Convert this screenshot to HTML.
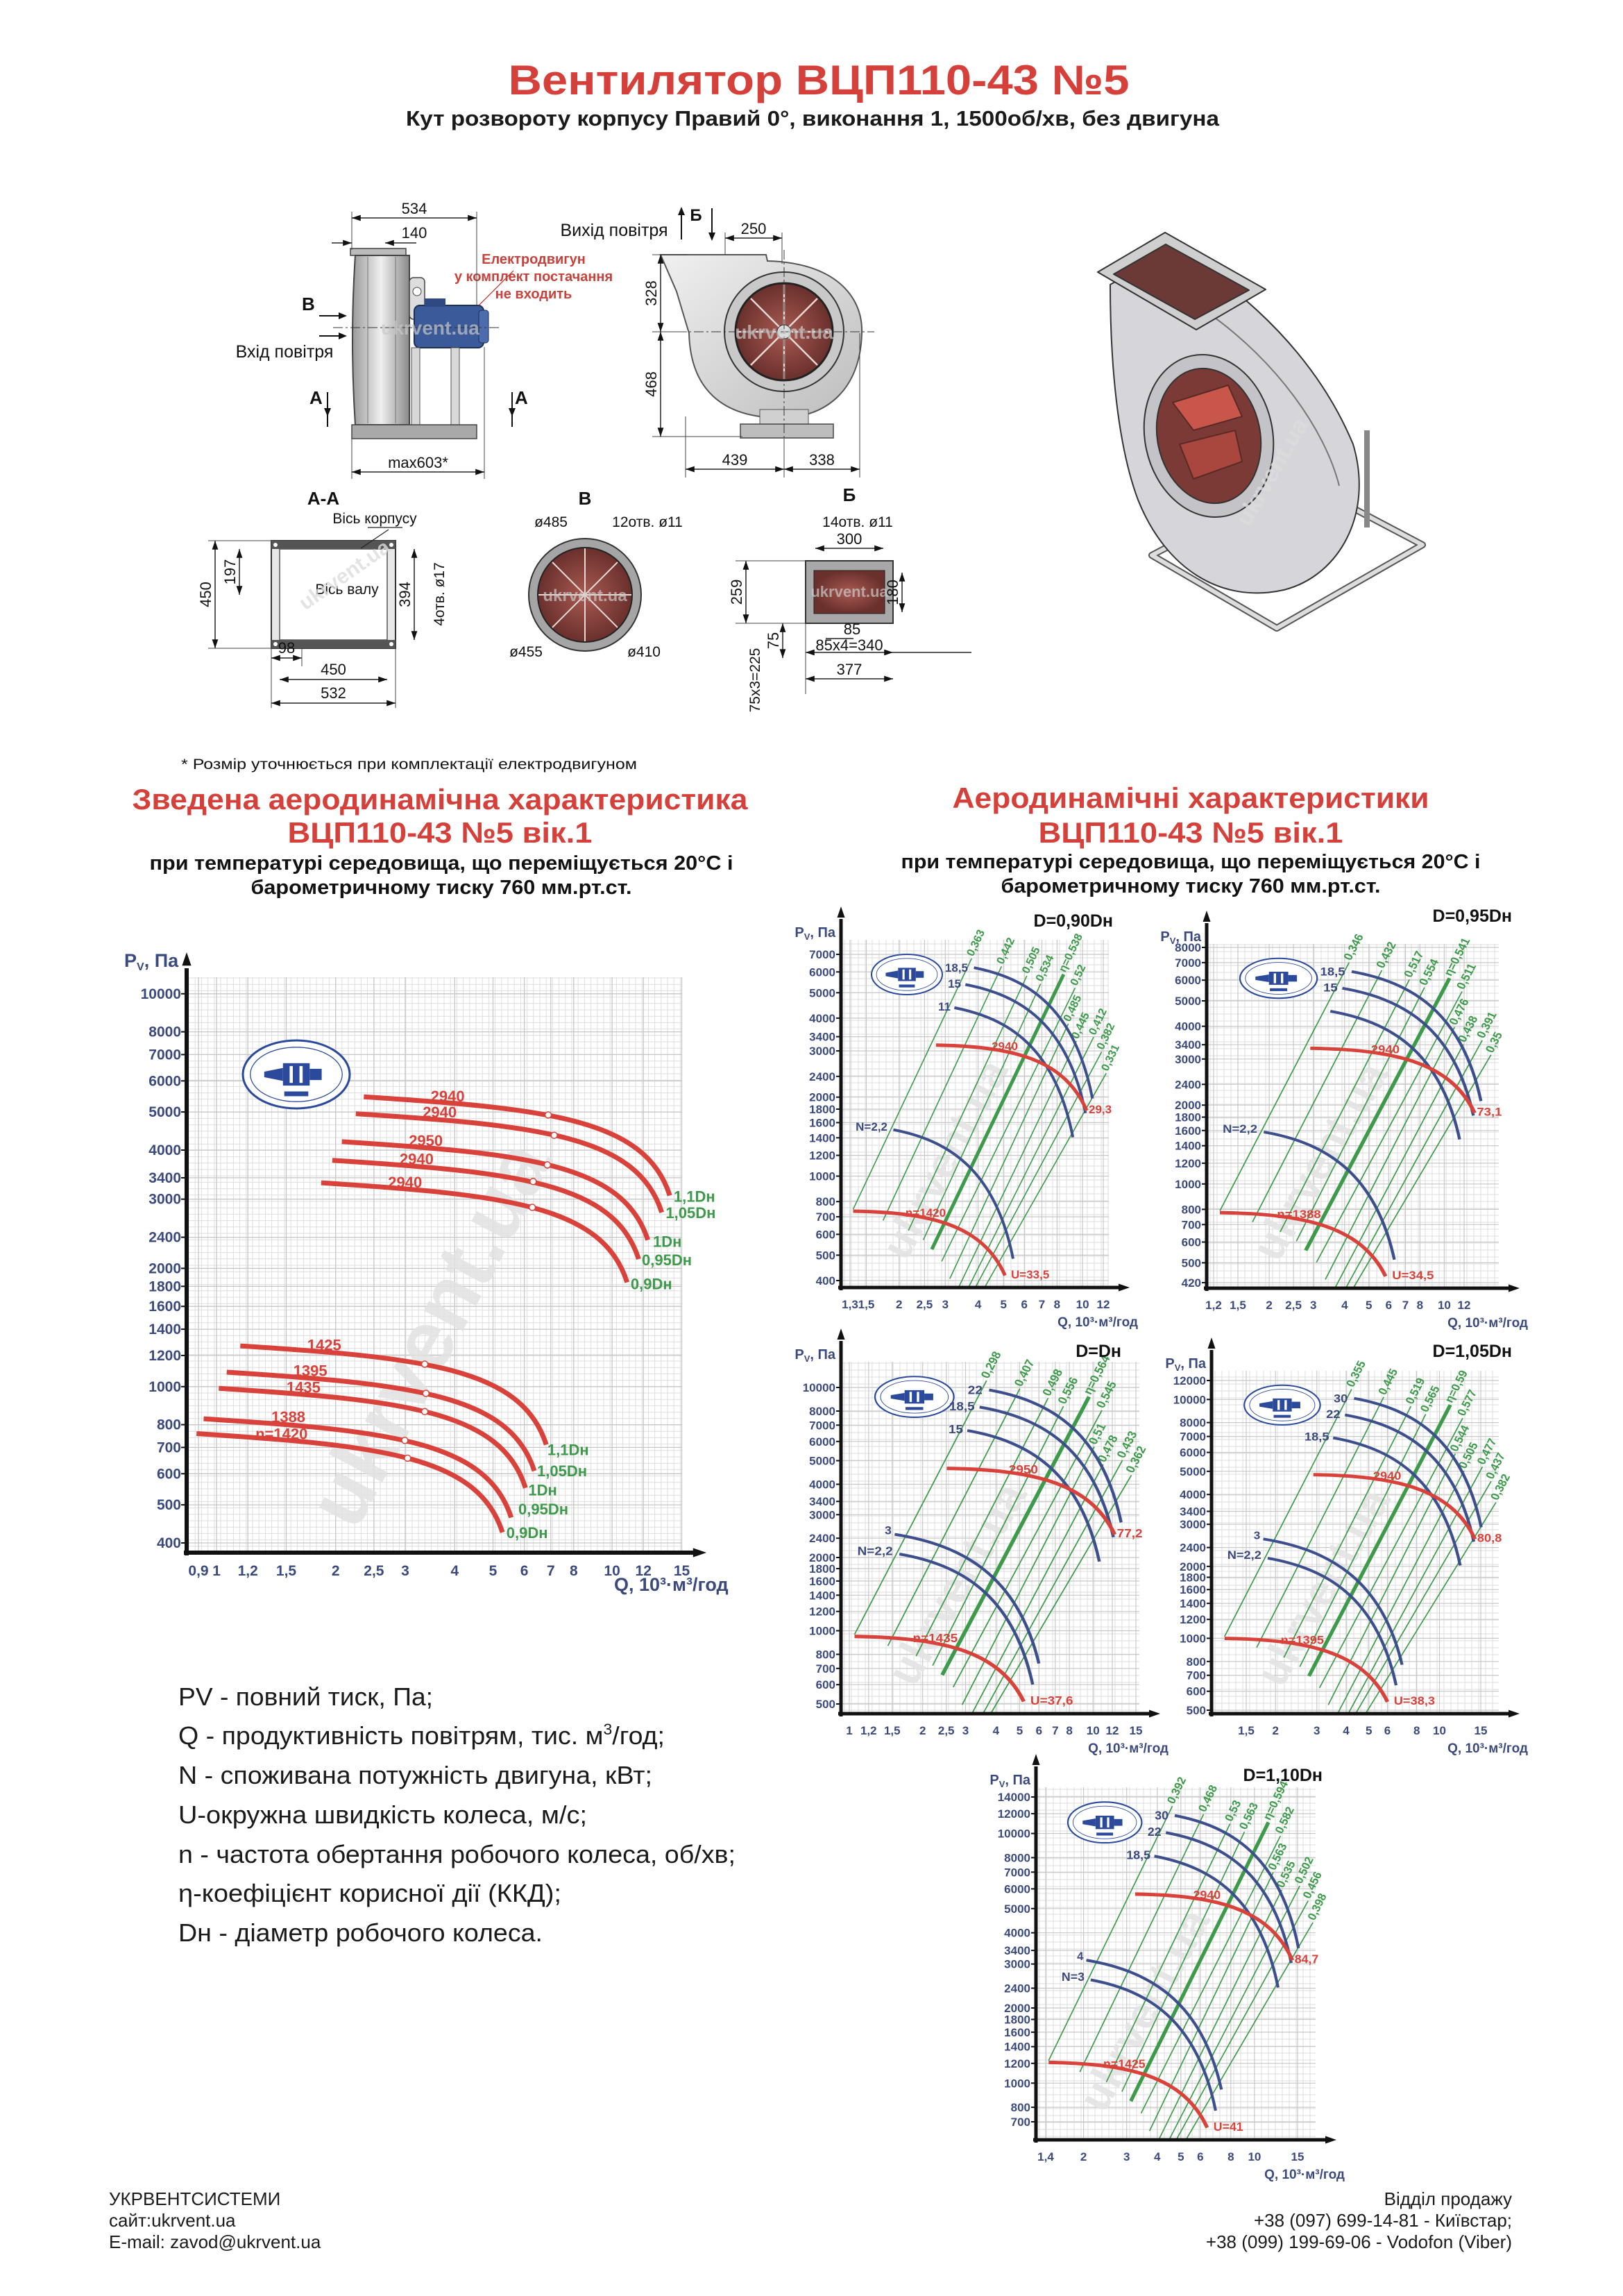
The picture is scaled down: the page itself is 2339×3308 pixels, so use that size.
<!DOCTYPE html>
<html><head><meta charset="utf-8">
<style>
html,body{margin:0;padding:0;background:#fff}
svg{display:block}
text{font-family:"Liberation Sans",sans-serif}
</style></head>
<body>
<svg id="s" xmlns="http://www.w3.org/2000/svg" width="2339" height="3308" viewBox="0 0 2339 3308">
<rect width="2339" height="3308" fill="#fff"/>
<defs>
<linearGradient id="gh" x1="0" x2="1" y1="0" y2="0">
<stop offset="0" stop-color="#9a9a9a"/><stop offset="0.5" stop-color="#efefef"/><stop offset="1" stop-color="#8a8a8a"/></linearGradient>
<linearGradient id="gv" x1="0" x2="1" y1="0" y2="1">
<stop offset="0" stop-color="#f0f0f0"/><stop offset="1" stop-color="#bdbdbd"/></linearGradient>
<radialGradient id="gr" cx="0.5" cy="0.5" r="0.5">
<stop offset="0" stop-color="#a85a52"/><stop offset="1" stop-color="#6a302c"/></radialGradient>
</defs>
<!-- Titles -->
<text x="1180" y="136" font-size="60" font-weight="bold" fill="#d6403a" text-anchor="middle" textLength="895" lengthAdjust="spacingAndGlyphs">Вентилятор ВЦП110-43 №5</text>
<text x="1171" y="181" font-size="31" font-weight="bold" fill="#1a1a1a" text-anchor="middle" textLength="1172" lengthAdjust="spacingAndGlyphs">Кут розвороту корпусу Правий 0°, виконання 1, 1500об/хв, без двигуна</text>

<!-- Side view -->
<g>
<rect x="505" y="358" width="80" height="10" fill="#bbb" stroke="#444" stroke-width="1.5"/>
<path d="M512,368 L590,368 L590,612 L512,612 Q504,490 512,368 Z" fill="url(#gh)" stroke="#444" stroke-width="2"/>
<line x1="530" y1="370" x2="530" y2="610" stroke="#777" stroke-width="1"/>
<line x1="570" y1="370" x2="570" y2="610" stroke="#777" stroke-width="1"/>
<rect x="590" y="400" width="22" height="60" rx="6" fill="#ddd" stroke="#444" stroke-width="1.5"/>
<circle cx="601" cy="420" r="6" fill="#fff" stroke="#444"/>
<rect x="597" y="440" width="100" height="61" rx="8" fill="#3a5a9a" stroke="#1e2f55" stroke-width="2"/>
<rect x="690" y="447" width="14" height="47" rx="4" fill="#4c6cad" stroke="#1e2f55"/>
<rect x="612" y="430" width="30" height="12" fill="#2f4a82"/>
<rect x="593" y="501" width="12" height="114" fill="#d8d8d8" stroke="#555"/>
<rect x="650" y="501" width="12" height="114" fill="#d8d8d8" stroke="#555"/>
<rect x="507" y="612" width="180" height="20" fill="#a9a9a9" stroke="#444" stroke-width="1.5"/>
<line x1="480" y1="472" x2="720" y2="472" stroke="#333" stroke-width="1" stroke-dasharray="14,4,3,4"/>
<text x="620" y="482" font-size="28" font-weight="bold" fill="#c8c8c8" opacity="0.7" text-anchor="middle">ukrvent.ua</text>
<line x1="690" y1="440" x2="740" y2="390" stroke="#b22" stroke-width="1.2"/>
<text x="769" y="380" font-size="20" font-weight="bold" fill="#c8413b" text-anchor="middle">Електродвигун</text>
<text x="769" y="405" font-size="20" font-weight="bold" fill="#c8413b" text-anchor="middle">у комплект постачання</text>
<text x="769" y="430" font-size="20" font-weight="bold" fill="#c8413b" text-anchor="middle">не входить</text>
<text x="435" y="447" font-size="26" font-weight="bold" fill="#111">В</text>
<line x1="460" y1="455" x2="495" y2="455" stroke="#111" stroke-width="2"/><polygon points="500,455 488,450 488,460" fill="#111"/>
<line x1="460" y1="484" x2="495" y2="484" stroke="#111" stroke-width="2"/><polygon points="500,484 488,479 488,489" fill="#111"/>
<text x="410" y="515" font-size="25" fill="#111" text-anchor="middle">Вхід повітря</text>
<text x="446" y="582" font-size="26" font-weight="bold" fill="#111">А</text>
<line x1="472" y1="565" x2="472" y2="615" stroke="#111" stroke-width="2"/><polygon points="472,600 467,588 477,588" fill="#111"/>
<text x="742" y="582" font-size="26" font-weight="bold" fill="#111">А</text>
<line x1="738" y1="565" x2="738" y2="615" stroke="#111" stroke-width="2"/><polygon points="738,600 733,588 743,588" fill="#111"/>
</g>

<!-- Front view -->
<g>
<path d="M952,367 L1104,367 L1106,376 C1200,378 1244,425 1242,480 C1240,560 1192,602 1125,602 C1040,602 995,560 993,480 L975,420 L952,367 Z" fill="url(#gv)" stroke="#555" stroke-width="2"/>
<line x1="952" y1="367" x2="952" y2="372" stroke="#333"/>
<rect x="1095" y="590" width="70" height="22" fill="#d0d0d0" stroke="#555"/>
<rect x="1067" y="611" width="134" height="20" fill="#bdbdbd" stroke="#444" stroke-width="1.5"/>
<circle cx="1130" cy="478" r="86" fill="#c9c9c9" stroke="#333" stroke-width="2"/>
<circle cx="1130" cy="478" r="70" fill="url(#gr)" stroke="#222" stroke-width="3"/>
<g stroke="#e9d9d5" stroke-width="2.5">
<line x1="1130" y1="478" x2="1130" y2="410"/><line x1="1130" y1="478" x2="1178" y2="430"/><line x1="1130" y1="478" x2="1198" y2="478"/><line x1="1130" y1="478" x2="1178" y2="526"/><line x1="1130" y1="478" x2="1130" y2="546"/><line x1="1130" y1="478" x2="1082" y2="526"/><line x1="1130" y1="478" x2="1062" y2="478"/><line x1="1130" y1="478" x2="1082" y2="430"/>
</g>
<circle cx="1130" cy="478" r="10" fill="#ddd" stroke="#333"/>
<line x1="950" y1="478" x2="1260" y2="478" stroke="#333" stroke-width="1" stroke-dasharray="14,4,3,4"/>
<line x1="1130" y1="360" x2="1130" y2="640" stroke="#333" stroke-width="1" stroke-dasharray="14,4,3,4"/>
<text x="1130" y="488" font-size="28" font-weight="bold" fill="#ccc" opacity="0.7" text-anchor="middle">ukrvent.ua</text>
<text x="885" y="340" font-size="25" fill="#111" text-anchor="middle">Вихід повітря</text>
<text x="1003" y="318" font-size="24" font-weight="bold" fill="#111" text-anchor="middle">Б</text>
<line x1="982" y1="300" x2="982" y2="345" stroke="#111" stroke-width="2"/><polygon points="982,298 977,310 987,310" fill="#111"/>
<line x1="1026" y1="300" x2="1026" y2="345" stroke="#111" stroke-width="2"/><polygon points="1026,347 1021,335 1031,335" fill="#111"/>
</g>

<!-- Section A-A -->
<g>
<text x="466" y="727" font-size="26" font-weight="bold" fill="#111" text-anchor="middle">А-А</text>
<text x="540" y="754" font-size="21" fill="#111" text-anchor="middle">Вісь корпусу</text>
<rect x="391" y="779" width="179" height="155" fill="#e8e8e8" stroke="#333" stroke-width="2"/>
<rect x="403" y="791" width="155" height="131" fill="#fff" stroke="#555" stroke-width="1.5"/>
<rect x="391" y="779" width="179" height="12" fill="#555"/>
<rect x="391" y="922" width="179" height="12" fill="#555"/>
<circle cx="397" cy="785" r="3" fill="#fff"/><circle cx="564" cy="785" r="3" fill="#fff"/><circle cx="397" cy="928" r="3" fill="#fff"/><circle cx="564" cy="928" r="3" fill="#fff"/>
<text x="500" y="856" font-size="21" fill="#111" text-anchor="middle">Вісь валу</text>
<text x="440" y="880" font-size="30" font-weight="bold" fill="#ddd" opacity="0.8" transform="rotate(-35 440 880)">ukrvent.ua</text>
</g>
<!-- В -->
<g>
<text x="843" y="727" font-size="26" font-weight="bold" fill="#111" text-anchor="middle">В</text>
<text x="794" y="759" font-size="21" fill="#111" text-anchor="middle">ø485</text>
<text x="933" y="759" font-size="21" fill="#111" text-anchor="middle">12отв. ø11</text>
<circle cx="843" cy="857" r="81" fill="#a5a5a5" stroke="#333" stroke-width="2"/>
<circle cx="843" cy="857" r="68" fill="url(#gr)" stroke="#222" stroke-width="2"/>
<g stroke="#e9d9d5" stroke-width="2"><line x1="843" y1="857" x2="843" y2="790"/><line x1="843" y1="857" x2="890" y2="810"/><line x1="843" y1="857" x2="910" y2="857"/><line x1="843" y1="857" x2="890" y2="904"/><line x1="843" y1="857" x2="843" y2="924"/><line x1="843" y1="857" x2="796" y2="904"/><line x1="843" y1="857" x2="776" y2="857"/><line x1="843" y1="857" x2="796" y2="810"/></g>
<text x="843" y="866" font-size="24" font-weight="bold" fill="#ccc" opacity="0.7" text-anchor="middle">ukrvent.ua</text>
<text x="758" y="946" font-size="21" fill="#111" text-anchor="middle">ø455</text>
<text x="928" y="946" font-size="21" fill="#111" text-anchor="middle">ø410</text>
</g>
<!-- Б -->
<g>
<text x="1224" y="722" font-size="26" font-weight="bold" fill="#111" text-anchor="middle">Б</text>
<text x="1236" y="759" font-size="21" fill="#111" text-anchor="middle">14отв. ø11</text>
<rect x="1161" y="808" width="126" height="90" fill="#a8a8a8" stroke="#333" stroke-width="2"/>
<rect x="1173" y="822" width="102" height="62" fill="url(#gr)" stroke="#222"/>
<text x="1224" y="860" font-size="22" font-weight="bold" fill="#ccc" opacity="0.7" text-anchor="middle">ukrvent.ua</text>
</g>

<!-- 3D fan -->
<g stroke="#333" stroke-width="2" stroke-linejoin="round">
<polygon points="1660,800 1840,905 2050,785 1870,690" fill="none" stroke="#555" stroke-width="10"/>
<polygon points="1660,800 1840,905 2050,785 1870,690" fill="none" stroke="#ddd" stroke-width="6"/>
<line x1="1700" y1="780" x2="1700" y2="700" stroke="#888" stroke-width="8"/>
<line x1="1970" y1="760" x2="1970" y2="620" stroke="#888" stroke-width="8"/>
<line x1="1900" y1="790" x2="1900" y2="650" stroke="#888" stroke-width="8"/>
<path d="M1600,410 L1690,360 C1800,420 1900,520 1950,640 C1980,740 1930,830 1850,850 C1760,870 1680,820 1640,720 C1610,640 1600,520 1600,410 Z" fill="#d6d6da"/>
<path d="M1690,360 L1740,450 C1840,520 1910,620 1930,700" fill="none" stroke="#777"/>
<ellipse cx="1742" cy="628" rx="92" ry="118" fill="#c4c4c8" transform="rotate(-12 1742 628)"/>
<ellipse cx="1742" cy="628" rx="74" ry="98" fill="#7b3a35" transform="rotate(-12 1742 628)"/>
<polygon points="1690,580 1770,555 1790,600 1720,620" fill="#c9564a" stroke="#5a2a26"/>
<polygon points="1700,640 1780,620 1790,665 1720,690" fill="#a9473e" stroke="#5a2a26"/>
<polygon points="1582,392 1679,335 1824,417 1724,475" fill="#cfcfcf"/>
<polygon points="1605,395 1680,352 1800,418 1722,460" fill="#6b3a36"/>
<text x="1800" y="760" font-size="34" font-weight="bold" fill="#ddd" opacity="0.8" stroke="none" transform="rotate(-60 1800 760)">ukrvent.ua</text>
</g>

<text x="261" y="1108" font-size="21" fill="#111" textLength="657" lengthAdjust="spacingAndGlyphs">* Розмір уточнюється при комплектації електродвигуном</text>

<!-- Headings -->
<text x="634" y="1166" font-size="42" font-weight="bold" fill="#d6403a" text-anchor="middle" textLength="887" lengthAdjust="spacingAndGlyphs">Зведена аеродинамічна характеристика</text>
<text x="634" y="1214" font-size="42" font-weight="bold" fill="#d6403a" text-anchor="middle" textLength="439" lengthAdjust="spacingAndGlyphs">ВЦП110-43 №5 вік.1</text>
<text x="636" y="1253" font-size="29" font-weight="bold" fill="#111" text-anchor="middle" textLength="841" lengthAdjust="spacingAndGlyphs">при температурі середовища, що переміщується 20°С і</text>
<text x="636" y="1288" font-size="29" font-weight="bold" fill="#111" text-anchor="middle" textLength="549" lengthAdjust="spacingAndGlyphs">барометричному тиску 760 мм.рт.ст.</text>
<text x="1716" y="1164" font-size="42" font-weight="bold" fill="#d6403a" text-anchor="middle" textLength="687" lengthAdjust="spacingAndGlyphs">Аеродинамічні характеристики</text>
<text x="1716" y="1214" font-size="42" font-weight="bold" fill="#d6403a" text-anchor="middle" textLength="439" lengthAdjust="spacingAndGlyphs">ВЦП110-43 №5 вік.1</text>
<text x="1716" y="1251" font-size="29" font-weight="bold" fill="#111" text-anchor="middle" textLength="835" lengthAdjust="spacingAndGlyphs">при температурі середовища, що переміщується 20°С і</text>
<text x="1716" y="1286" font-size="29" font-weight="bold" fill="#111" text-anchor="middle" textLength="547" lengthAdjust="spacingAndGlyphs">барометричному тиску 760 мм.рт.ст.</text>

<!-- Legend -->
<g font-size="36" fill="#1a1a1a">
<text x="257" y="2457" textLength="367" lengthAdjust="spacingAndGlyphs">PV - повний тиск, Па;</text>
<text x="257" y="2513" textLength="701" lengthAdjust="spacingAndGlyphs">Q - продуктивність повітрям, тис. м<tspan font-size="22" dy="-14">3</tspan><tspan dy="14">/год;</tspan></text>
<text x="257" y="2570" textLength="683" lengthAdjust="spacingAndGlyphs">N - споживана потужність двигуна, кВт;</text>
<text x="257" y="2627" textLength="589" lengthAdjust="spacingAndGlyphs">U-окружна швидкість колеса, м/с;</text>
<text x="257" y="2684" textLength="803" lengthAdjust="spacingAndGlyphs">n - частота обертання робочого колеса, об/хв;</text>
<text x="257" y="2740" textLength="552" lengthAdjust="spacingAndGlyphs">η-коефіцієнт корисної дії (ККД);</text>
<text x="257" y="2797" textLength="525" lengthAdjust="spacingAndGlyphs">Dн - діаметр робочого колеса.</text>
</g>

<!-- Footer -->
<g font-size="26" fill="#1a1a1a">
<text x="157" y="3177">УКРВЕНТСИСТЕМИ</text>
<text x="157" y="3208">сайт:ukrvent.ua</text>
<text x="157" y="3239">E-mail: zavod@ukrvent.ua</text>
<text x="2179" y="3177" text-anchor="end">Відділ продажу</text>
<text x="2179" y="3208" text-anchor="end">+38 (097) 699-14-81 - Київстар;</text>
<text x="2179" y="3239" text-anchor="end">+38 (099) 199-69-06 - Vodofon (Viber)</text>
</g>

<g id="dyn"></g>
</svg>
<script>
(function(){
var S='';
function f(n){return (+n).toFixed(1);}
function line(x1,y1,x2,y2,c,w,ex){S+='<line x1="'+f(x1)+'" y1="'+f(y1)+'" x2="'+f(x2)+'" y2="'+f(y2)+'" stroke="'+c+'" stroke-width="'+w+'" '+(ex||'')+'/>';}
function text(x,y,s,size,fill,anchor,weight,ex){S+='<text x="'+f(x)+'" y="'+f(y)+'" font-size="'+size+'" fill="'+fill+'" text-anchor="'+(anchor||'start')+'" font-weight="'+(weight||'normal')+'" '+(ex||'')+'>'+s+'</text>';}
function tri(x,y,d,s){var p;
 if(d=='l')p=[x,y,x+s*1.6,y-s*0.55,x+s*1.6,y+s*0.55];
 if(d=='r')p=[x,y,x-s*1.6,y-s*0.55,x-s*1.6,y+s*0.55];
 if(d=='u')p=[x,y,x-s*0.55,y+s*1.6,x+s*0.55,y+s*1.6];
 if(d=='d')p=[x,y,x-s*0.55,y-s*1.6,x+s*0.55,y-s*1.6];
 S+='<polygon points="'+p.map(f).join(' ')+'" fill="#111"/>';}
function dimH(x1,x2,y,lab,ty){line(x1,y,x2,y,'#222',1.5);tri(x1,y,'l',8);tri(x2,y,'r',8);text((x1+x2)/2,ty||(y-6),lab,22,'#111','middle');}
function dimV(x,y1,y2,lab){line(x,y1,x,y2,'#222',1.5);tri(x,y1,'u',8);tri(x,y2,'d',8);var cy=(y1+y2)/2;text(x-6,cy,lab,22,'#111','middle','normal','transform="rotate(-90 '+f(x-6)+' '+f(cy)+')"');}
// drawing dimensions
line(507,305,507,360,'#444',1);line(687,305,687,440,'#444',1);
dimH(507,687,314,'534');
line(478,350,507,350,'#222',1.5);tri(507,350,'r',8);line(555,350,600,350,'#222',1.5);tri(555,350,'l',8);text(597,343,'140',22,'#111','middle');
line(507,632,507,690,'#444',1);line(698,500,698,690,'#444',1);
dimH(507,698,680,'max603*');
line(1045,335,1045,367,'#444',1);line(1127,335,1127,380,'#444',1);dimH(1045,1127,343,'250');
line(940,367,990,367,'#444',1);line(940,629,1070,629,'#444',1);line(940,478,990,478,'#444',1);
dimV(952,367,478,'328');dimV(952,478,629,'468');
line(988,600,988,688,'#444',1);line(1239,480,1239,688,'#444',1);line(1130,632,1130,688,'#444',1);
dimH(988,1130,676,'439');dimH(1130,1239,676,'338');
dimV(310,779,934,'450');line(300,779,391,779,'#444',1);line(300,934,391,934,'#444',1);
dimV(345,791,857,'197');dimV(597,791,922,'394');
text(640,856,'4отв. ø17',21,'#111','middle','normal','transform="rotate(-90 640 856)"');
dimH(391,435,948,'98',941);line(435,934,435,960,'#444',1);
dimH(403,558,979,'450',972);dimH(391,570,1013,'532',1006);
line(391,934,391,1020,'#444',1);line(570,934,570,1020,'#444',1);
line(530,760,580,760,'#222',1.2);line(560,763,520,790,'#222',1.2);
dimV(1075,808,898,'259');dimV(1300,825,882,'180');
dimH(1175,1273,790,'300');
dimH(1161,1287,940,'85x4=340',937);line(1287,940,1400,940,'#222',1.5);
dimH(1161,1287,978,'377',972);
line(1190,920,1230,920,'#222',1.5);text(1228,914,'85',22,'#111','middle');
dimV(1128,898,948,'75');
text(1095,980,'75x3=225',21,'#111','middle','normal','transform="rotate(-90 1095 980)"');
line(1161,898,1161,1000,'#444',1);line(1060,808,1161,808,'#444',1);line(1060,898,1161,898,'#444',1);

// ---------- Big chart ----------
var BX=function(z){return 150+z/1.742;},BY=function(z){return 1350+z/1.638;};
var L=272,R=982,TOP=1408,B=2237,AX=269;
var X=function(q){return 286+570*Math.log10(q/0.9);},Y=function(p){return 2223-566*Math.log10(p/400);};
for(var x=L;x<=R;x+=9.2)line(x,TOP,x,B,'#dedede',1);
for(var y=B;y>=TOP;y-=9.2)line(L,y,R,y,'#dedede',1);
var yv=[10000,8000,7000,6000,5000,4000,3400,3000,2400,2000,1800,1600,1400,1200,1000,800,700,600,500,400];
var xv=[[0.9,'0,9'],[1,'1'],[1.2,'1,2'],[1.5,'1,5'],[2,'2'],[2.5,'2,5'],[3,'3'],[4,'4'],[5,'5'],[6,'6'],[7,'7'],[8,'8'],[10,'10'],[12,'12'],[15,'15']];
yv.forEach(function(p){line(L,Y(p),R,Y(p),'#c6c6c6',1.3);line(AX-8,Y(p),AX,Y(p),'#111',2);text(AX-8,Y(p)+7,p,21,'#3a4a7e','end','bold');});
xv.forEach(function(a){line(X(a[0]),TOP,X(a[0]),B,'#c6c6c6',1.3);text(X(a[0]),B+33,a[1],21,'#3a4a7e','middle','bold');});
text(655,1940,'ukrvent.ua',120,'#e2e2e2','middle','bold','transform="rotate(-62 655 1940)" opacity="0.85"');
// logo
function logo(cx,cy,rx,ry){
 S+='<g><ellipse cx="'+cx+'" cy="'+cy+'" rx="'+rx+'" ry="'+ry+'" fill="#fff" stroke="#2b4a9c" stroke-width="'+(rx/25)+'"/>';
 S+='<ellipse cx="'+cx+'" cy="'+cy+'" rx="'+(rx*0.86)+'" ry="'+(ry*0.8)+'" fill="none" stroke="#2b4a9c" stroke-width="'+(rx/60)+'"/>';
 var w=rx*0.5,h=ry*0.55;
 S+='<rect x="'+f(cx-w*0.5)+'" y="'+f(cy-h*0.6)+'" width="'+f(w)+'" height="'+f(h*1.2)+'" fill="#2b4a9c"/>';
 S+='<polygon points="'+f(cx-w*0.5)+','+f(cy-h*0.35)+' '+f(cx-w*1.2)+','+f(cy-h*0.15)+' '+f(cx-w*1.2)+','+f(cy+h*0.15)+' '+f(cx-w*0.5)+','+f(cy+h*0.35)+'" fill="#2b4a9c"/>';
 S+='<rect x="'+f(cx+w*0.5)+'" y="'+f(cy-h*0.3)+'" width="'+f(w*0.45)+'" height="'+f(h*0.6)+'" fill="#2b4a9c"/>';
 S+='<rect x="'+f(cx-w*0.25)+'" y="'+f(cy-h*0.45)+'" width="'+f(w*0.12)+'" height="'+f(h*0.9)+'" fill="#fff"/>';
 S+='<rect x="'+f(cx+w*0.12)+'" y="'+f(cy-h*0.45)+'" width="'+f(w*0.12)+'" height="'+f(h*0.9)+'" fill="#fff"/>';
 S+='<rect x="'+f(cx-w*0.45)+'" y="'+f(cy+ry*0.5)+'" width="'+f(w*0.9)+'" height="'+f(ry*0.14)+'" fill="#2b4a9c"/>';
 S+='</g>';}
logo(427,1548,77,49);
function curve(x0,y0,x3,y3,a,b,c,d,col,w){var dx=x3-x0,dy=y3-y0;
 S+='<path d="M'+f(x0)+','+f(y0)+' C'+f(x0+a*dx)+','+f(y0+b*dy)+' '+f(x0+c*dx)+','+f(y0+d*dy)+' '+f(x3)+','+f(y3)+'" fill="none" stroke="'+col+'" stroke-width="'+w+'" stroke-linecap="butt"/>';}
var RED='#d9423a',GREEN='#3d9a4a',NAVY='#3a4a7e',BLUE='#3c4e8c';
var bc=[[652,377,1420,610,1115,420],[632,417,1400,650,1130,468],[597,483,1365,715,1113,538],[573,527,1342,760,1077,577],[545,580,1313,815,1075,638],
[342,965,1110,1198,805,1008],[308,1027,1080,1260,808,1077],[288,1065,1058,1300,805,1120],[250,1137,1022,1370,755,1188],[232,1172,1000,1405,762,1230]];
bc.forEach(function(c){curve(BX(c[0]),BY(c[1]),BX(c[2]),BY(c[3]),0.6,0.12,0.92,0.22,RED,7);});
bc.forEach(function(c){S+='<circle cx="'+f(BX(c[4]))+'" cy="'+f(BY(c[5]))+'" r="4.5" fill="#fff" stroke="'+RED+'" stroke-width="1.5"/>';});
var rl=[[820,375,'2940'],[800,413,'2940'],[765,480,'2950'],[742,523,'2940'],[713,578,'2940'],[510,962,'1425'],[475,1023,'1395'],[458,1062,'1435'],[420,1132,'1388'],[380,1172,'n=1420']];
rl.forEach(function(r){text(BX(r[0]),BY(r[1])+8,r[2],22,RED,'start','bold');});
var gl=[[1430,612,'1,1Dн'],[1410,650,'1,05Dн'],[1378,718,'1Dн'],[1350,762,'0,95Dн'],[1322,818,'0,9Dн'],[1113,1210,'1,1Dн'],[1087,1260,'1,05Dн'],[1065,1305,'1Dн'],[1040,1350,'0,95Dн'],[1010,1405,'0,9Dн']];
gl.forEach(function(r){text(BX(r[0]),BY(r[1])+8,r[2],22,GREEN,'start','bold');});
line(AX,B+4,AX,1395,'#111',6);tri(AX,1372,'u',12);
line(AX-4,B,1000,B,'#111',6);tri(1018,B,'r',12);
text(179,1393,'P<tspan font-size="16" dy="5">V</tspan><tspan dy="-5">, Па</tspan>',27,NAVY,'start','bold');
text(885,2292,'Q, 10³·м³/год',27,NAVY,'start','bold');

// ---------- Small charts ----------
var Z=function(zx,zy){return [1120+zx/3.015,1300+zy/2.6];};
function content(c){
 var s0=S;S='';
 text(1380,1680,'ukrvent.ua',62,'#e4e4e4','middle','bold','transform="rotate(-62 1380 1680)" opacity="0.9"');
 logo(1307,1404,51,29);
 var gls=[[330,1150,845,210],[460,1192,975,240],[570,1230,1085,275],[635,1265,1145,305],[672,1300,1245,270],[715,1345,1295,320],[750,1410,1265,455],[790,1440,1300,520],[830,1445,1375,505],[860,1445,1410,560],[900,1445,1430,640]];
 var ang=-64.6;
 gls.forEach(function(g,i){if(i>=c.green.length)return;var a=Z(g[0],g[1]),b=Z(g[2],g[3]);
  var thick=(c.green[i].indexOf('η')==0);
  line(a[0],a[1],b[0],b[1],GREEN,thick?5:1.6);
  text(b[0]+2,b[1]-2,c.green[i],16,GREEN,'start','bold','transform="rotate('+ang+' '+f(b[0]+2)+' '+f(b[1]-2)+')"');});
 var blues=[[[855,245],[1370,735]],[[818,308],[1340,790]],[[770,395],[1285,880]]];
 blues.forEach(function(bb,i){var a=Z(bb[0][0],bb[0][1]),b=Z(bb[1][0],bb[1][1]);curve(a[0],a[1],b[0],b[1],0.45,0.08,0.85,0.3,BLUE,4);});
 var na=Z(505,852),nb=Z(1025,1335);
 curve(na[0],na[1],nb[0],nb[1],0.45,0.08,0.85,0.3,BLUE,4);
 if(c.extra){curve(na[0]-6,na[1]-28,nb[0]+8,nb[1]-30,0.45,0.08,0.85,0.3,BLUE,4);text(na[0]-10,na[1]-28,c.extra,16,NAVY,'end','bold');}
 var ra=Z(690,535),rb=Z(1345,780);curve(ra[0],ra[1],rb[0],rb[1],0.5,0.02,0.85,0.2,RED,5);
 var ra2=Z(330,1157),rb2=Z(990,1398);curve(ra2[0],ra2[1],rb2[0],rb2[1],0.5,0.02,0.85,0.2,RED,5);
 text(1395,1400,c.b[0],17,NAVY,'end','bold');text(1385,1423,c.b[1],17,NAVY,'end','bold');text(1370,1456,c.b[2],17,NAVY,'end','bold');
 text(1279,1629,c.n,17,NAVY,'end','bold');
 text(1448,1513,c.r[0],17,RED,'middle','bold');text(1334,1753,c.r[1],17,RED,'middle','bold');
 text(1569,1604,c.r[2],17,RED,'start','bold');text(1457,1842,c.r[3],17,RED,'start','bold');
 var out=S;S=s0;return out;}
function small(c){
 var L=c.L,B=c.B,R=c.R,T=c.T;
 for(var x=L+5;x<=R;x+=10)line(x,T,x,B,'#dedede',1);
 for(var y=B-5;y>=T;y-=10)line(L,y,R,y,'#dedede',1);
 var Yp=function(p){return c.yb[1]-Math.log10(p/c.yb[0])/Math.log10(c.yt[0]/c.yb[0])*(c.yb[1]-c.yt[1]);};
 var Xq=function(q){return c.x0[1]+Math.log10(q/c.x0[0])/Math.log10(c.x1[0]/c.x0[0])*(c.x1[1]-c.x0[1]);};
 c.yl.forEach(function(p){var y=Yp(p);line(L,y,R,y,'#c8c8c8',1.2);line(L-7,y,L,y,'#111',2);text(L-8,y+6,p,17,NAVY,'end','bold');});
 c.xl.forEach(function(a){var x=Xq(a[0]);line(x,T,x,B,'#c8c8c8',1.2);text(x,B+30,a[1],17,NAVY,'middle','bold');});
 var sx=(R-L)/386,sy=(B-T)/501;
 S+='<g transform="translate('+L+','+B+') scale('+sx.toFixed(4)+','+sy.toFixed(4)+') translate(-1212,-1855)">'+content(c)+'</g>';
 line(L,B+4,L,T-30,'#111',5);tri(L,T-48,'u',10);
 line(L-4,B,R+14,B,'#111',5);tri(R+30,B,'r',10);
 text(L-8,T-4,'P<tspan font-size="13" dy="4">V</tspan><tspan dy="-4">, Па</tspan>',20,NAVY,'end','bold');
 text(R+42,B+56,'Q, 10³·м³/год',19,NAVY,'end','bold');
 text(c.tx,c.ty,c.title,25,'#111','end','bold');}
var Y1=[7000,6000,5000,4000,3400,3000,2400,2000,1800,1600,1400,1200,1000,800,700,600,500,400];
small({L:1212,B:1855,R:1598,T:1354,yt:[7000,1375],yb:[400,1845],yl:Y1,x0:[1.3,1225],x1:[12,1590],
 xl:[[1.3,'1,3'],[1.5,'1,5'],[2,'2'],[2.5,'2,5'],[3,'3'],[4,'4'],[5,'5'],[6,'6'],[7,'7'],[8,'8'],[10,'10'],[12,'12']],
 title:'D=0,90Dн',tx:1604,ty:1335,b:['18,5','15','11'],n:'N=2,2',r:['2940','n=1420','29,3','U=33,5'],
 green:['0,363','0,442','0,505','0,534','η=0,538','0,52','0,485','0,445','0,412','0,382','0,331']});
small({L:1739,B:1856,R:2160,T:1360,yt:[8000,1365],yb:[420,1848],yl:[8000,7000,6000,5000,4000,3400,3000,2400,2000,1800,1600,1400,1200,1000,800,700,600,500,420],x0:[1.2,1749],x1:[12,2110],
 xl:[[1.2,'1,2'],[1.5,'1,5'],[2,'2'],[2.5,'2,5'],[3,'3'],[4,'4'],[5,'5'],[6,'6'],[7,'7'],[8,'8'],[10,'10'],[12,'12']],
 title:'D=0,95Dн',tx:2179,ty:1328,b:['18,5','15',''],n:'N=2,2',r:['2940','n=1388','73,1','U=34,5'],
 green:['0,346','0,432','0,517','0,554','η=0,541','0,511','0,476','0,438','0,391','0,35']});
var Y3=[10000,8000,7000,6000,5000,4000,3400,3000,2400,2000,1800,1600,1400,1200,1000,800,700,600,500];
small({L:1212,B:2469,R:1642,T:1962,yt:[10000,1999],yb:[500,2455],yl:Y3,x0:[1,1224],x1:[15,1637],
 xl:[[1,'1'],[1.2,'1,2'],[1.5,'1,5'],[2,'2'],[2.5,'2,5'],[3,'3'],[4,'4'],[5,'5'],[6,'6'],[7,'7'],[8,'8'],[10,'10'],[12,'12'],[15,'15']],
 title:'D=Dн',tx:1616,ty:1955,b:['22','18,5','15'],n:'N=2,2',extra:'3',r:['2950','n=1435','77,2','U=37,6'],
 green:['0,298','0,407','0,498','0,556','η=0,564','0,545','0,51','0,478','0,433','0,362']});
small({L:1746,B:2469,R:2160,T:1975,yt:[12000,1989],yb:[500,2464],yl:[12000,10000,8000,7000,6000,5000,4000,3400,3000,2400,2000,1800,1600,1400,1200,1000,800,700,600,500],x0:[1.5,1796],x1:[15,2134],
 xl:[[1.5,'1,5'],[2,'2'],[3,'3'],[4,'4'],[5,'5'],[6,'6'],[8,'8'],[10,'10'],[15,'15']],
 title:'D=1,05Dн',tx:2179,ty:1955,b:['30','22','18,5'],n:'N=2,2',extra:'3',r:['2940','n=1395','80,8','U=38,3'],
 green:['0,355','0,445','0,519','0,565','η=0,59','0,577','0,544','0,505','0,477','0,437','0,382']});
small({L:1493,B:3083,R:1896,T:2575,yt:[14000,2589],yb:[700,3057],yl:[14000,12000,10000,8000,7000,6000,5000,4000,3400,3000,2400,2000,1800,1600,1400,1200,1000,800,700],x0:[1.4,1507],x1:[15,1870],
 xl:[[1.4,'1,4'],[2,'2'],[3,'3'],[4,'4'],[5,'5'],[6,'6'],[8,'8'],[10,'10'],[15,'15']],
 title:'D=1,10Dн',tx:1906,ty:2566,b:['30','22','18,5'],n:'N=3',extra:'4',r:['2940','n=1425','84,7','U=41'],
 green:['0,392','0,468','0,53','0,563','η=0,594','0,582','0,563','0,535','0,502','0,456','0,398']});
document.getElementById('dyn').innerHTML=S;
})();
</script>
</body></html>
